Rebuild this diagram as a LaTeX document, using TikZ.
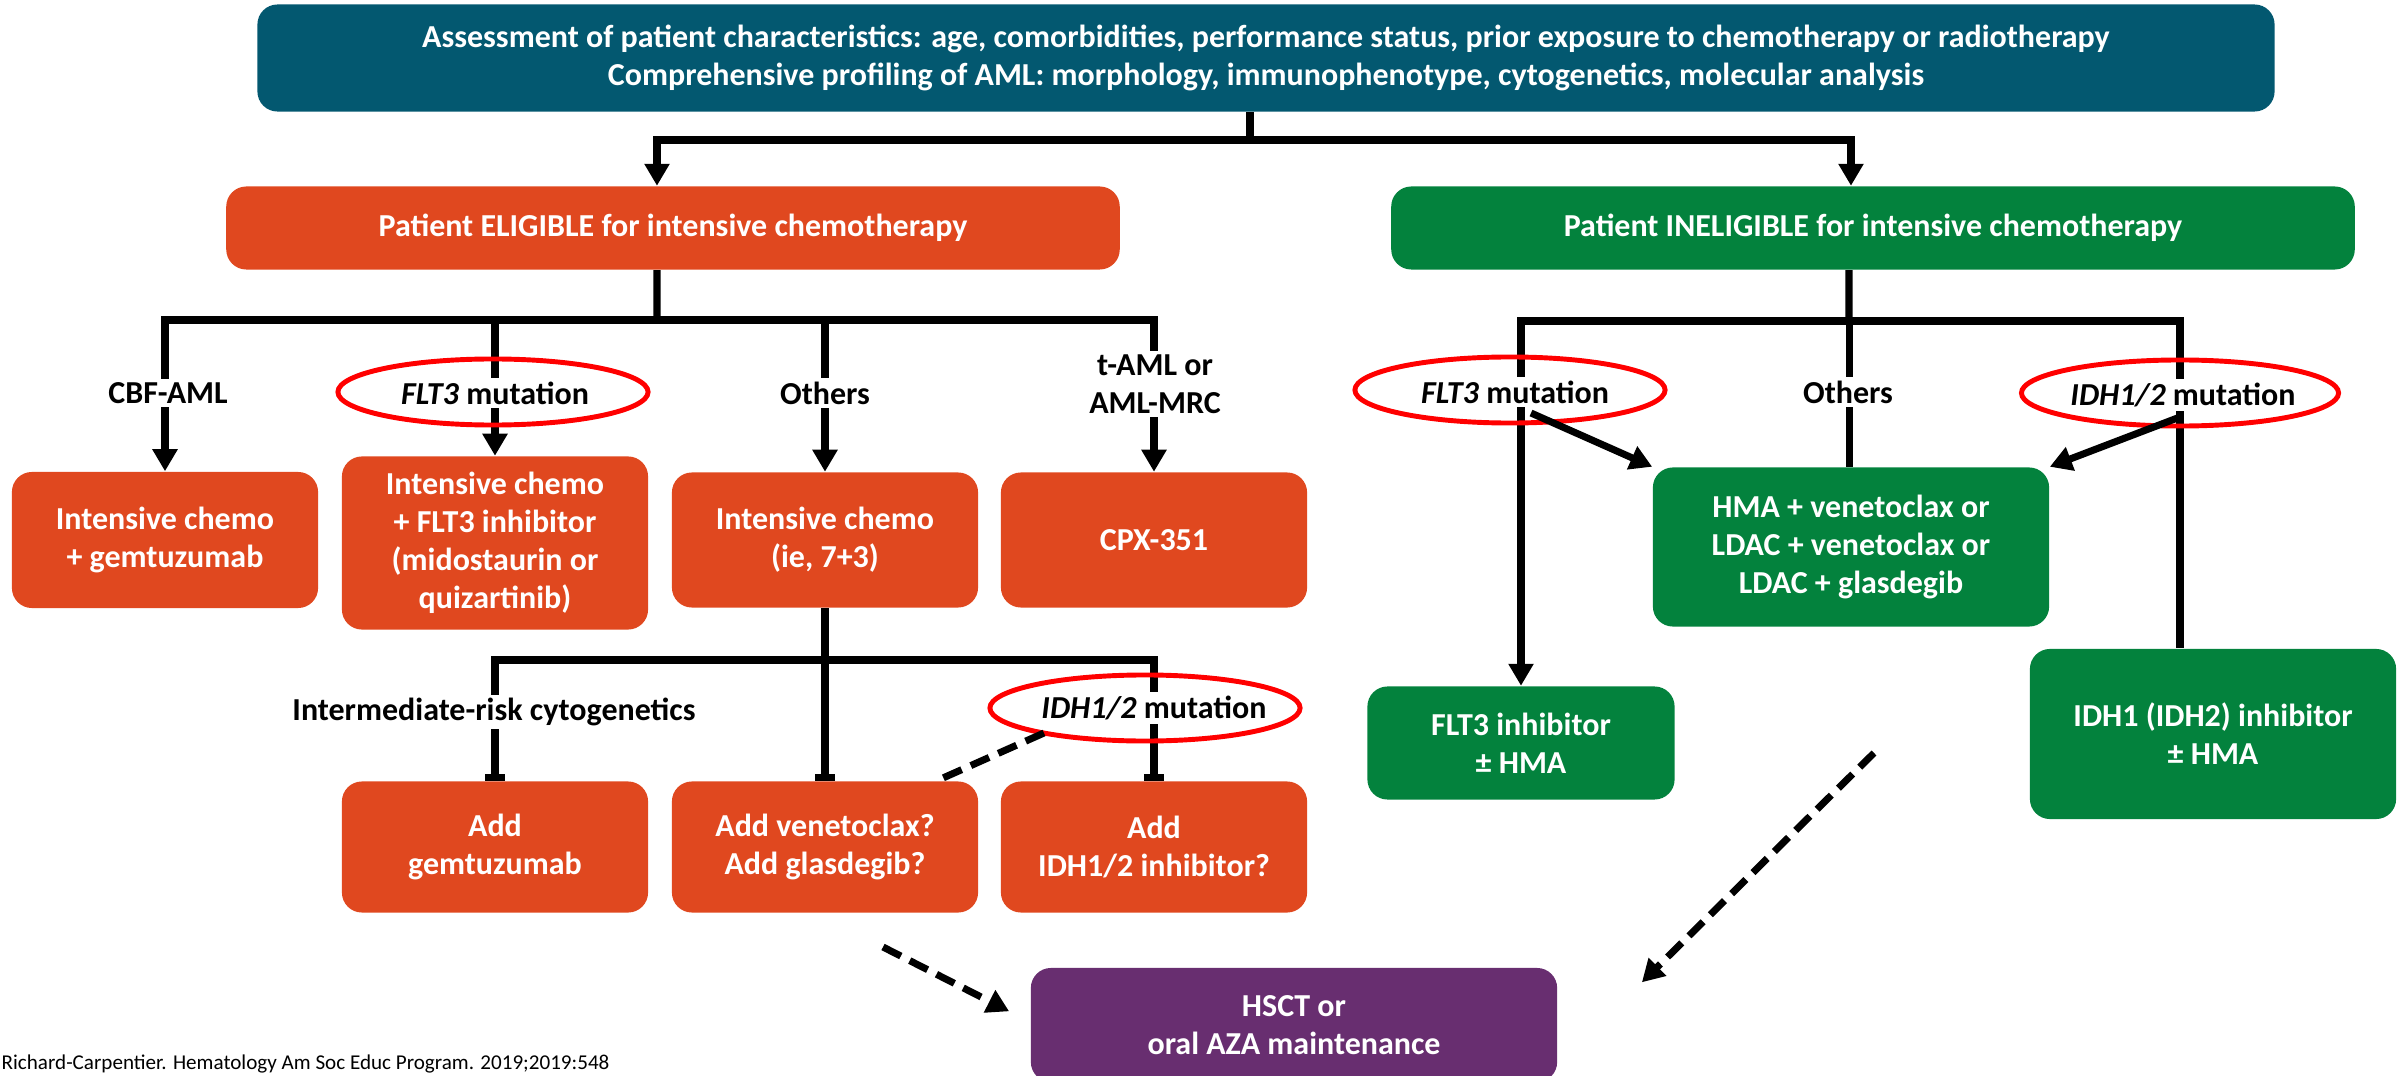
\documentclass[tikz,border=0pt]{standalone}
\usepackage{fontspec}
\setmainfont{Carlito}
\usetikzlibrary{shapes,arrows,arrows.meta}
\definecolor{topteal}{RGB}{3,88,112}
\definecolor{eligred}{RGB}{224,72,31}
\definecolor{inelgreen}{RGB}{3,130,61}
\definecolor{hsctpurple}{RGB}{104,46,112}
\tikzstyle{block} = [rectangle, rounded corners=0.2cm, text=white, align=center, inner sep=0pt, font=\bfseries\fontsize{9.1}{10.8}\selectfont]
\tikzstyle{eblock} = [block, fill=eligred, minimum width=3.06cm]
\tikzstyle{iblock} = [block, fill=inelgreen]
\tikzstyle{cond} = [fill=white, inner sep=1pt, align=center, font=\bfseries\fontsize{9.1}{10.8}\selectfont]
\tikzstyle{ring} = [draw=red, ellipse, line width=1.4pt, inner sep=0pt, minimum width=3.1cm, minimum height=0.66cm]
\tikzstyle{link} = [line width=2pt]
\tikzstyle{dlink} = [line width=2pt, dash pattern=on 0.2cm off 0.1cm]

\begin{document}
\begin{tikzpicture}[x=0.01cm, y=-0.01cm, >={Triangle[length=0.22cm,width=0.24cm]}]
	\useasboundingbox (0,0) rectangle (2399,1076);

	% ASSESSMENT
	\node[block, fill=topteal, minimum width=20.16cm, minimum height=1.07cm] (assess) at (1266,58) {Assessment of patient characteristics: age, comorbidities, performance status, prior exposure to chemotherapy or radiotherapy\\Comprehensive profiling of AML: morphology, immunophenotype, cytogenetics, molecular analysis};

	\node[block, fill=eligred, minimum width=8.93cm, minimum height=0.83cm] (elig) at (673,228) {Patient ELIGIBLE for intensive chemotherapy};
	\node[block, fill=inelgreen, minimum width=9.63cm, minimum height=0.83cm] (inelig) at (1873,228) {Patient INELIGIBLE for intensive chemotherapy};

	% ELIGIBLE
	\node[eblock, minimum height=1.36cm] (cbf) at (165,540) {Intensive chemo\\+ gemtuzumab};
	\node[eblock, minimum height=1.73cm] (flt) at (495,543) {Intensive chemo\\+ FLT3 inhibitor\\(midostaurin or\\quizartinib)};
	\node[eblock, minimum height=1.35cm] (oth) at (825,540) {Intensive chemo\\(ie, 7+3)};
	\node[eblock, minimum height=1.35cm] (cpx) at (1154,540) {CPX-351};

	\node[eblock, minimum height=1.31cm] (gem) at (495,847) {Add\\gemtuzumab};
	\node[eblock, minimum height=1.31cm] (ven) at (825,847) {Add venetoclax?\\Add glasdegib?};
	\node[eblock, minimum height=1.31cm] (idhadd) at (1154,847) {Add\\IDH1/2 inhibitor?};

	% INELIGIBLE
	\node[iblock, minimum width=3.96cm, minimum height=1.59cm] (hma) at (1851,547) {HMA + venetoclax or\\LDAC + venetoclax or\\LDAC + glasdegib};
	\node[iblock, minimum width=3.07cm, minimum height=1.13cm] (fltinh) at (1521,743) {FLT3 inhibitor\\± HMA};
	\node[iblock, minimum width=3.66cm, minimum height=1.70cm] (idhinh) at (2213,734) {IDH1 (IDH2) inhibitor\\± HMA};

	% OUTCOME
	\node[block, fill=hsctpurple, minimum width=5.26cm, minimum height=1.14cm] (hsct) at (1294,1025) {HSCT or\\oral AZA maintenance};

	\coordinate (split) at (1250,140);
	\coordinate (ebar) at (657,320);
	\coordinate (obar) at (825,660);
	\coordinate (ibar) at (1849,321);
	\coordinate (ldash) at (883,947);
	\coordinate (rdash) at (1874,753);

	\draw [link] (assess.south -| split) -- (split);
	\draw [link,->] (split) -| ([xshift=-0.16cm]elig.north);
	\draw [link,->] (split) -| ([xshift=-0.22cm]inelig.north);

	\draw [link] ([xshift=-0.16cm]elig.south) -- (ebar);
	\draw [link,->] (ebar) -| (cbf.north);
	\draw [link,->] (ebar) -| (flt.north);
	\draw [link,->] (ebar) -| (oth.north);
	\draw [link,->] (ebar) -| (cpx.north);

	\draw [link] (oth.south) -- (obar);
	\draw [link,-{Bar[width=0.2cm]}] (obar) -| (gem.north);
	\draw [link,-{Bar[width=0.2cm]}] (obar) -- (ven.north);
	\draw [link,-{Bar[width=0.2cm]}] (obar) -| (idhadd.north);

	\draw [link] ([xshift=-0.24cm]inelig.south) -- (ibar);
	\draw [link,->] (ibar) -| (fltinh.north);
	\draw [link] (ibar) -- (ibar |- hma.north);
	\draw [link] (ibar) -| ([xshift=-0.33cm]idhinh.north);

	\draw [dlink,->] (ldash) -- ([xshift=-0.21cm,yshift=-0.44cm]hsct.north west);
	\draw [dlink,->] (rdash) -- ([xshift=0.84cm,yshift=-0.15cm]hsct.north east);

	% CONDITIONS
	\node[cond] (cbfL) at (168,393) {CBF-AML};
	\node[cond] (fltL) at (495,393) {\textit{FLT3} mutation};
	\node[ring] (fltLring) at (493,392) {};
	\node[cond] (othL) at (825,393) {Others};
	\node[cond] (tamlL) at (1155,384) {t-AML or\\AML-MRC};

	\node[cond] (intL) at (494,712) {Intermediate-risk cytogenetics};
	\node[cond] (idhL) at (1154,708) {\textit{IDH1/2} mutation};
	\node[ring] (idhLring) at (1145,708) {};
	\draw [dlink] ([xshift=-1.01cm,yshift=-0.25cm]idhLring.center) -- ([xshift=-0.42cm]ven.north east);

	\node[cond] (fltR) at (1515,392) {\textit{FLT3} mutation};
	\node[ring] (fltRring) at (1510,390) {};
	\node[cond] (othR) at (1848,392) {Others};
	\node[cond] (idhR) at (2183,395) {\textit{IDH1/2} mutation};
	\node[ring, minimum width=3.17cm] (idhRring) at (2180,393) {};

	\draw [link,->] ([xshift=0.21cm,yshift=-0.23cm]fltRring.center) -- (hma.north west);
	\draw [link,->] ([yshift=-0.24cm]idhRring.center) -- (hma.north east);

	\node[anchor=base west, inner sep=0pt, font=\fontsize{6}{7}\selectfont] (cite) at (1,1069) {Richard-Carpentier. Hematology Am Soc Educ Program. 2019;2019:548};

\end{tikzpicture}
\end{document}
